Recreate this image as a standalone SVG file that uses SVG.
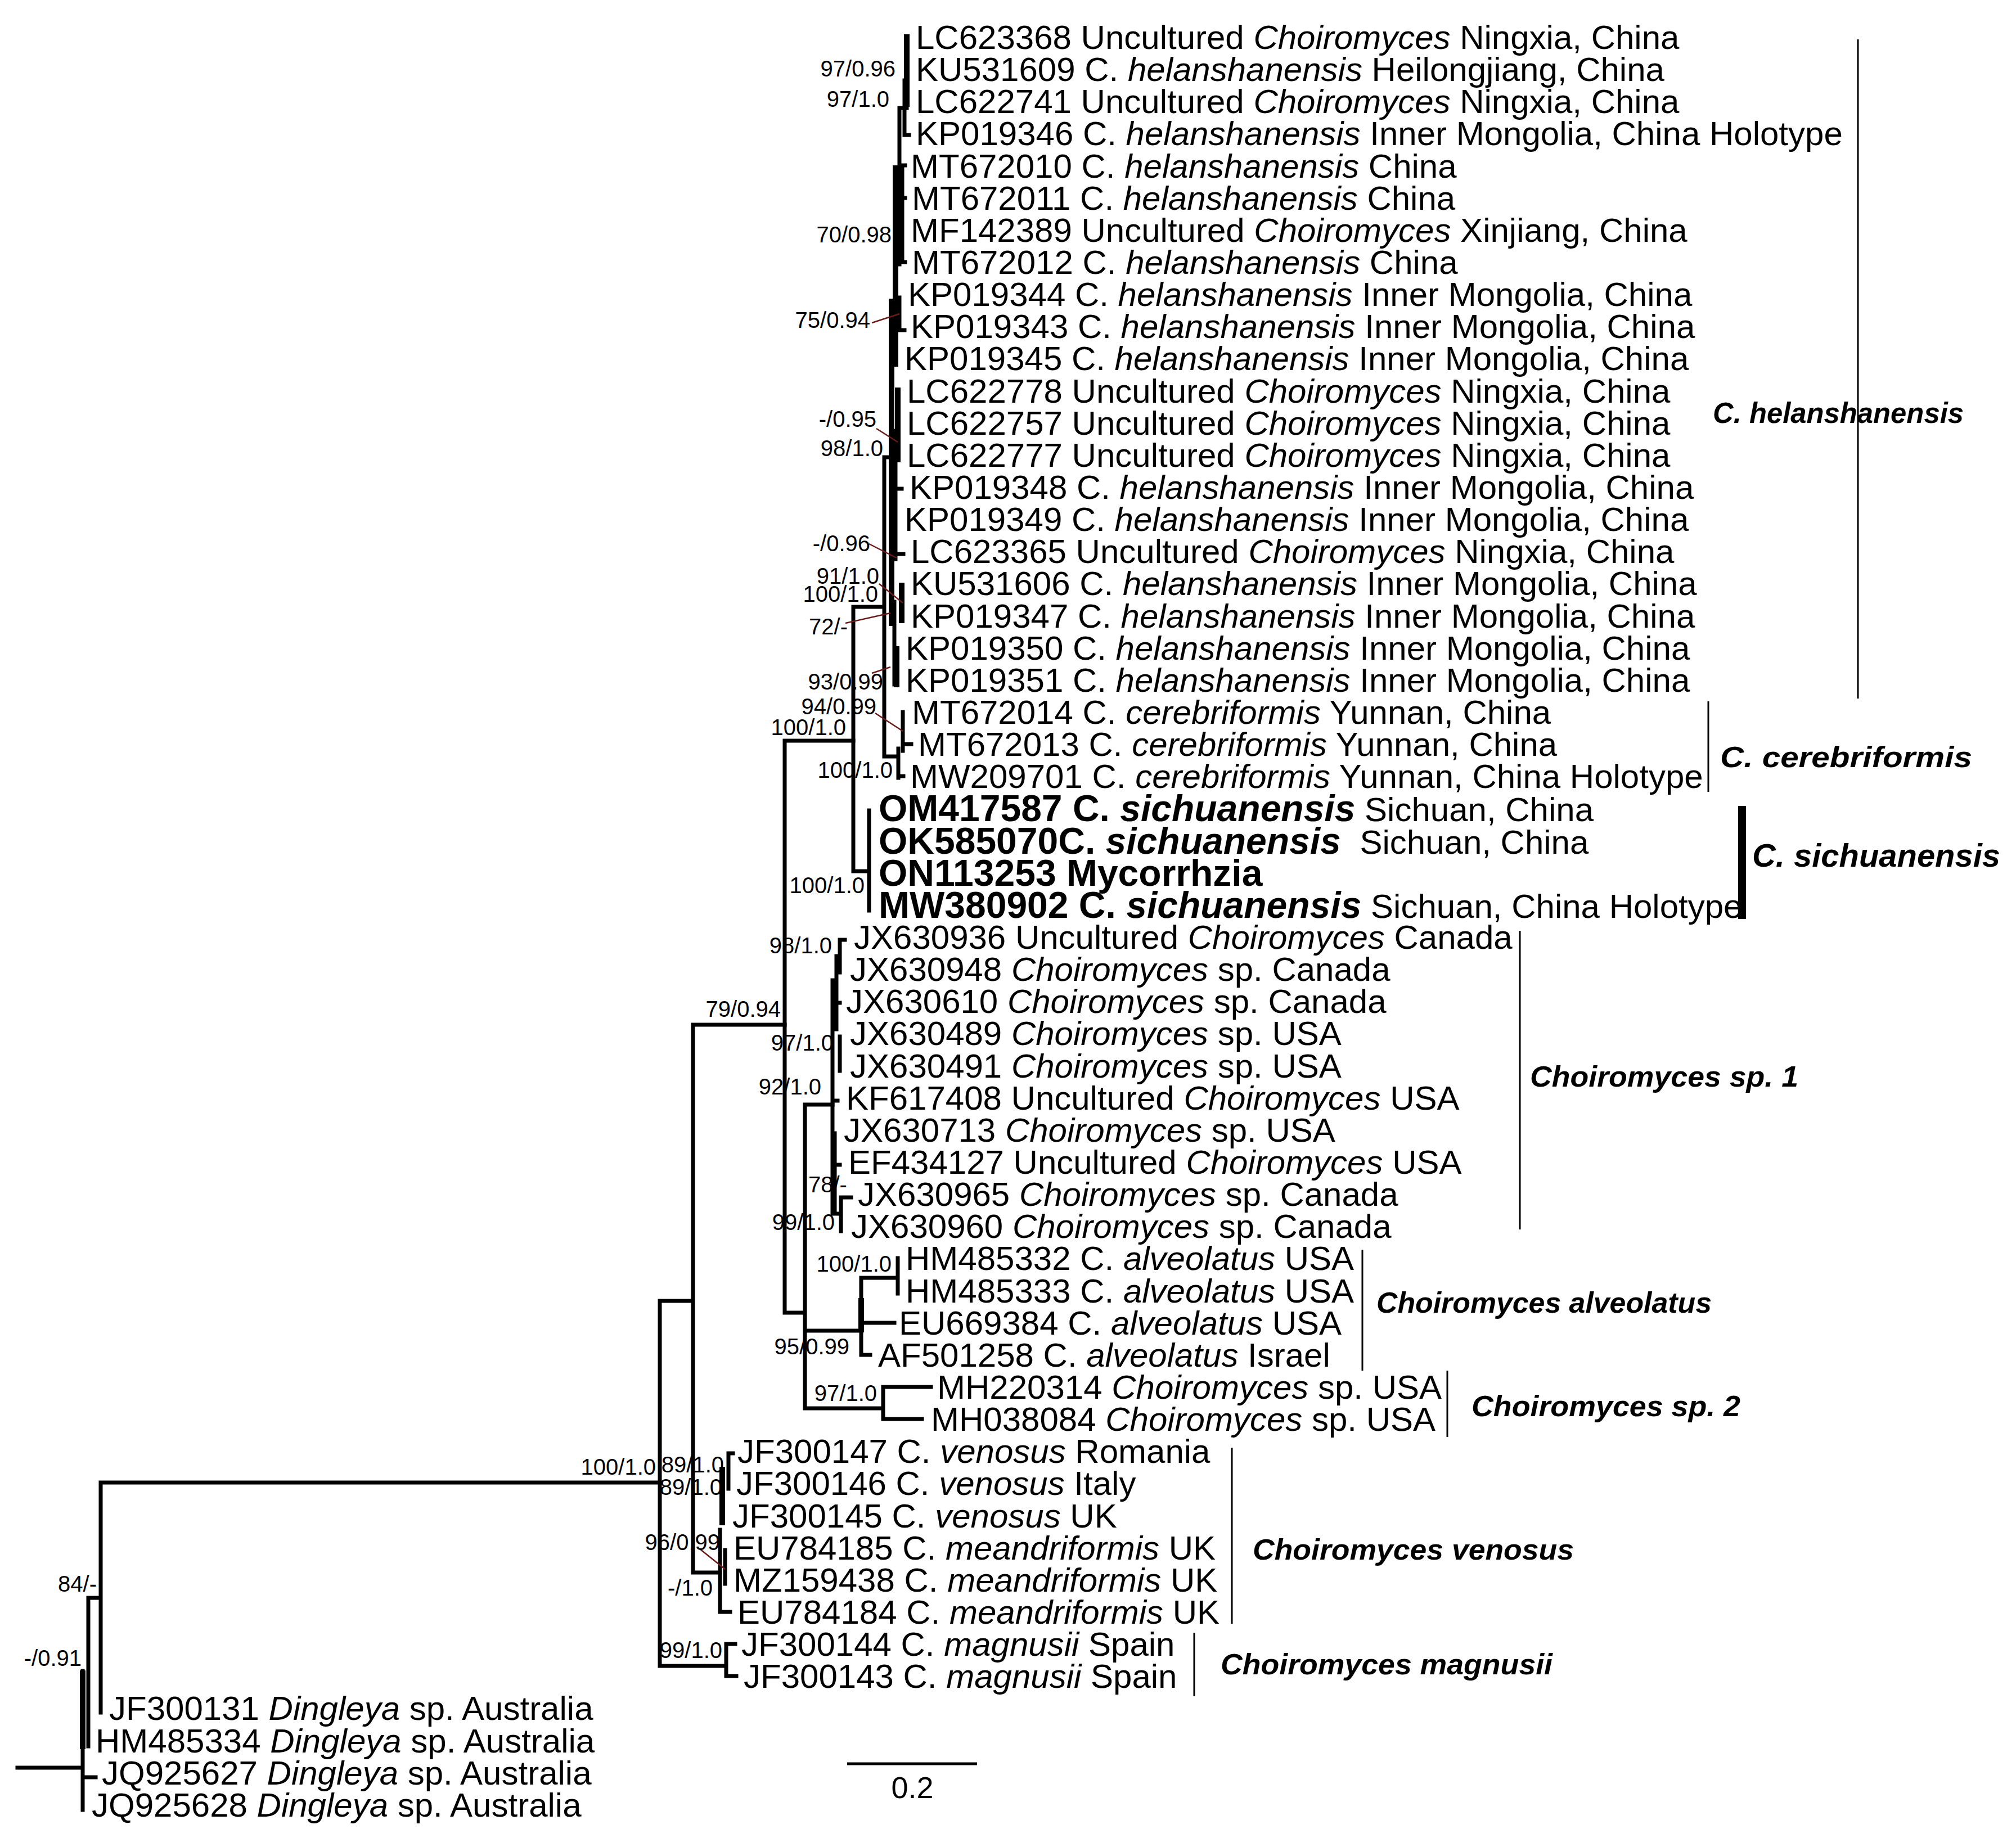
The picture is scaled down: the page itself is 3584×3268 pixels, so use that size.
<svg xmlns="http://www.w3.org/2000/svg" width="3584" height="3268" viewBox="0 0 3584 3268">
<style>
text{font-family:"Liberation Sans",Arial,sans-serif;fill:#000}
.t{font-size:60px}
.i{font-style:italic}
.b{font-size:66px;font-weight:bold}
.r{font-size:60px;font-weight:normal;font-style:normal}
.s{font-size:40px}
.e{text-anchor:end}
.c{font-size:52px;font-weight:bold;font-style:italic}
.br{stroke:#000;stroke-width:7;fill:none;stroke-linecap:square}
.tk{stroke:#000;stroke-width:10;fill:none;stroke-linecap:square}
.ld{stroke:#6b1a1a;stroke-width:2.5;fill:none}
.bar{stroke:#000;stroke-width:3;fill:none}
</style>
<rect width="3584" height="3268" fill="#fff"/>
<g id="connectors">
<path class="br" d="M31,3143H147 M147,2971V3218 M147,3160H170 M157,2841V3105 M157,2841H179 M179,2636V3045 M179,2636H1173 M1173,2313V2962 M1173,2313H1232 M1173,2962H1291 M1291,2923V2980 M1291,2923H1307 M1291,2980H1309 M1232,1822V2796 M1232,1822H1395 M1232,2796H1280"/>
<path class="tk" d="M147,2975V3105"/>
<path class="br" d="M1280,2720V2866 M1280,2866H1298 M1295,2584V2647 M1295,2584H1303 M1289,2756V2816"/>
<path class="tk" d="M1284,2613V2707"/>
<path class="br" d="M1395,1317V2334 M1395,1317H1517 M1395,2334H1431 M1431,1964V2504 M1431,1964H1480 M1431,2366H1531 M1431,2504H1570 M1570,2466V2523 M1570,2466H1655 M1570,2523H1639"/>
<path class="br" d="M1531,2272V2409 M1531,2409H1547 M1531,2352H1590 M1531,2272H1596 M1596,2237V2300"/>
<path class="tk" d="M1531,2313V2364"/>
<path class="br" d="M1480,1743V2158 M1487,1700V1830 M1493,1671V1729 M1493,1671H1502 M1487,1783H1493 M1493,1843V1904 M1480,1957H1489 M1480,2071H1493 M1484,2015V2158 M1480,2158H1495 M1495,2129V2189 M1495,2129H1513"/>
<path class="br" d="M1517,1079V1549 M1517,1079H1572 M1517,1549H1545 M1545,1441V1619 M1572,813V1345 M1572,813H1585 M1572,1345H1597 M1597,1331V1383 M1597,1380H1606 M1605,1266V1335 M1605,1323H1620"/>
<path class="tk" d="M1612,66V185 M1592,299V647 M1585,536V1108 M1596,694V817 M1603,1041V1103 M1594,1154V1217"/>
<path class="br" d="M1608,143V240 M1608,240H1616 M1599,192H1612 M1599,192V470 M1604,294V466 M1604,294H1609 M1604,352H1609 M1604,466H1609 M1599,529V587 M1599,587H1608 M1592,766V994 M1592,869H1603 M1592,985H1606 M1590,1070V1217"/>
<path class="ld" d="M1550,574L1599,558 M1558,762L1596,786 M1545,967L1594,992 M1563,1038L1605,1072 M1503,1108L1583,1090 M1550,1197L1583,1186 M1556,1268L1605,1300 M1244,2754L1289,2790"/>
</g>
<g id="support">
<text class="s e" x="1592" y="136">97/0.96</text>
<text class="s e" x="1581" y="190">97/1.0</text>
<text class="s e" x="1585" y="431">70/0.98</text>
<text class="s e" x="1547" y="583">75/0.94</text>
<text class="s e" x="1558" y="759">-/0.95</text>
<text class="s e" x="1570" y="811">98/1.0</text>
<text class="s e" x="1547" y="980">-/0.96</text>
<text class="s e" x="1563" y="1038">91/1.0</text>
<text class="s e" x="1561" y="1070">100/1.0</text>
<text class="s e" x="1507" y="1128">72/-</text>
<text class="s e" x="1570" y="1226">93/0.99</text>
<text class="s e" x="1558" y="1270">94/0.99</text>
<text class="s e" x="1504" y="1307">100/1.0</text>
<text class="s e" x="1587" y="1383">100/1.0</text>
<text class="s e" x="1537" y="1588">100/1.0</text>
<text class="s e" x="1479" y="1695">98/1.0</text>
<text class="s e" x="1388" y="1808">79/0.94</text>
<text class="s e" x="1482" y="1868">97/1.0</text>
<text class="s e" x="1460" y="1946">92/1.0</text>
<text class="s" x="1437" y="2120">78/-</text>
<text class="s e" x="1484" y="2187">99/1.0</text>
<text class="s e" x="1585" y="2261">100/1.0</text>
<text class="s e" x="1510" y="2408">95/0.99</text>
<text class="s e" x="1559" y="2491">97/1.0</text>
<text class="s e" x="1166" y="2622">100/1.0</text>
<text class="s e" x="1287" y="2618">89/1.0</text>
<text class="s e" x="1284" y="2658">89/1.0</text>
<text class="s e" x="1280" y="2756">96/0.99</text>
<text class="s e" x="1267" y="2837">-/1.0</text>
<text class="s e" x="1284" y="2948">99/1.0</text>
<text class="s e" x="172" y="2830">84/-</text>
<text class="s e" x="145" y="2962">-/0.91</text>
</g>
<g id="leaf-LC623368"><text class="t" x="1628" y="87">LC623368 Uncultured <tspan class="i">Choiromyces</tspan> Ningxia, China</text></g>
<g id="leaf-KU531609"><text class="t" x="1628" y="144">KU531609 C. <tspan class="i">helanshanensis</tspan> Heilongjiang, China</text></g>
<g id="leaf-LC622741"><text class="t" x="1628" y="201">LC622741 Uncultured <tspan class="i">Choiromyces</tspan> Ningxia, China</text></g>
<g id="leaf-KP019346"><text class="t" x="1628" y="258">KP019346 C. <tspan class="i">helanshanensis</tspan> Inner Mongolia, China Holotype</text></g>
<g id="leaf-MT672010"><text class="t" x="1619" y="316">MT672010 C. <tspan class="i">helanshanensis</tspan> China</text></g>
<g id="leaf-MT672011"><text class="t" x="1621" y="373">MT672011 C. <tspan class="i">helanshanensis</tspan> China</text></g>
<g id="leaf-MF142389"><text class="t" x="1619" y="430">MF142389 Uncultured <tspan class="i">Choiromyces</tspan> Xinjiang, China</text></g>
<g id="leaf-MT672012"><text class="t" x="1621" y="487">MT672012 C. <tspan class="i">helanshanensis</tspan> China</text></g>
<g id="leaf-KP019344"><text class="t" x="1614" y="544">KP019344 C. <tspan class="i">helanshanensis</tspan> Inner Mongolia, China</text></g>
<g id="leaf-KP019343"><text class="t" x="1619" y="601">KP019343 C. <tspan class="i">helanshanensis</tspan> Inner Mongolia, China</text></g>
<g id="leaf-KP019345"><text class="t" x="1608" y="658">KP019345 C. <tspan class="i">helanshanensis</tspan> Inner Mongolia, China</text></g>
<g id="leaf-LC622778"><text class="t" x="1612" y="716">LC622778 Uncultured <tspan class="i">Choiromyces</tspan> Ningxia, China</text></g>
<g id="leaf-LC622757"><text class="t" x="1612" y="773">LC622757 Uncultured <tspan class="i">Choiromyces</tspan> Ningxia, China</text></g>
<g id="leaf-LC622777"><text class="t" x="1612" y="830">LC622777 Uncultured <tspan class="i">Choiromyces</tspan> Ningxia, China</text></g>
<g id="leaf-KP019348"><text class="t" x="1617" y="887">KP019348 C. <tspan class="i">helanshanensis</tspan> Inner Mongolia, China</text></g>
<g id="leaf-KP019349"><text class="t" x="1608" y="944">KP019349 C. <tspan class="i">helanshanensis</tspan> Inner Mongolia, China</text></g>
<g id="leaf-LC623365"><text class="t" x="1619" y="1001">LC623365 Uncultured <tspan class="i">Choiromyces</tspan> Ningxia, China</text></g>
<g id="leaf-KU531606"><text class="t" x="1619" y="1058">KU531606 C. <tspan class="i">helanshanensis</tspan> Inner Mongolia, China</text></g>
<g id="leaf-KP019347"><text class="t" x="1619" y="1116">KP019347 C. <tspan class="i">helanshanensis</tspan> Inner Mongolia, China</text></g>
<g id="leaf-KP019350"><text class="t" x="1610" y="1173">KP019350 C. <tspan class="i">helanshanensis</tspan> Inner Mongolia, China</text></g>
<g id="leaf-KP019351"><text class="t" x="1610" y="1230">KP019351 C. <tspan class="i">helanshanensis</tspan> Inner Mongolia, China</text></g>
<g id="leaf-MT672014"><text class="t" x="1621" y="1287">MT672014 C. <tspan class="i">cerebriformis</tspan> Yunnan, China</text></g>
<g id="leaf-MT672013"><text class="t" x="1632" y="1344">MT672013 C. <tspan class="i">cerebriformis</tspan> Yunnan, China</text></g>
<g id="leaf-MW209701"><text class="t" x="1618" y="1401">MW209701 C. <tspan class="i">cerebriformis</tspan> Yunnan, China Holotype</text></g>
<g id="leaf-OM417587"><text class="b" x="1562" y="1460">OM417587 C. <tspan class="i">sichuanensis</tspan><tspan class="r"> Sichuan, China</tspan></text></g>
<g id="leaf-OK585070"><text class="b" x="1562" y="1518">OK585070C. <tspan class="i">sichuanensis</tspan><tspan class="r" dx="17"> Sichuan, China</tspan></text></g>
<g id="leaf-ON113253"><text class="b" x="1562" y="1575">ON113253 Mycorrhzia</text></g>
<g id="leaf-MW380902"><text class="b" x="1562" y="1632">MW380902 C. <tspan class="i">sichuanensis</tspan><tspan class="r"> Sichuan, China Holotype</tspan></text></g>
<g id="leaf-JX630936"><text class="t" x="1518" y="1687">JX630936 Uncultured <tspan class="i">Choiromyces</tspan> Canada</text></g>
<g id="leaf-JX630948"><text class="t" x="1511" y="1744">JX630948 <tspan class="i">Choiromyces</tspan> sp. Canada</text></g>
<g id="leaf-JX630610"><text class="t" x="1504" y="1801">JX630610 <tspan class="i">Choiromyces</tspan> sp. Canada</text></g>
<g id="leaf-JX630489"><text class="t" x="1511" y="1858">JX630489 <tspan class="i">Choiromyces</tspan> sp. USA</text></g>
<g id="leaf-JX630491"><text class="t" x="1511" y="1916">JX630491 <tspan class="i">Choiromyces</tspan> sp. USA</text></g>
<g id="leaf-KF617408"><text class="t" x="1504" y="1973">KF617408 Uncultured <tspan class="i">Choiromyces</tspan> USA</text></g>
<g id="leaf-JX630713"><text class="t" x="1500" y="2030">JX630713 <tspan class="i">Choiromyces</tspan> sp. USA</text></g>
<g id="leaf-EF434127"><text class="t" x="1508" y="2087">EF434127 Uncultured <tspan class="i">Choiromyces</tspan> USA</text></g>
<g id="leaf-JX630965"><text class="t" x="1525" y="2144">JX630965 <tspan class="i">Choiromyces</tspan> sp. Canada</text></g>
<g id="leaf-JX630960"><text class="t" x="1513" y="2201">JX630960 <tspan class="i">Choiromyces</tspan> sp. Canada</text></g>
<g id="leaf-HM485332"><text class="t" x="1610" y="2258">HM485332 C. <tspan class="i">alveolatus</tspan> USA</text></g>
<g id="leaf-HM485333"><text class="t" x="1610" y="2316">HM485333 C. <tspan class="i">alveolatus</tspan> USA</text></g>
<g id="leaf-EU669384"><text class="t" x="1598" y="2373">EU669384 C. <tspan class="i">alveolatus</tspan> USA</text></g>
<g id="leaf-AF501258"><text class="t" x="1561" y="2430">AF501258 C. <tspan class="i">alveolatus</tspan> Israel</text></g>
<g id="leaf-MH220314"><text class="t" x="1666" y="2487">MH220314 <tspan class="i">Choiromyces</tspan> sp. USA</text></g>
<g id="leaf-MH038084"><text class="t" x="1655" y="2544">MH038084 <tspan class="i">Choiromyces</tspan> sp. USA</text></g>
<g id="leaf-JF300147"><text class="t" x="1311" y="2601">JF300147 C. <tspan class="i">venosus</tspan> Romania</text></g>
<g id="leaf-JF300146"><text class="t" x="1309" y="2658">JF300146 C. <tspan class="i">venosus</tspan> Italy</text></g>
<g id="leaf-JF300145"><text class="t" x="1302" y="2716">JF300145 C. <tspan class="i">venosus</tspan> UK</text></g>
<g id="leaf-EU784185"><text class="t" x="1304" y="2773">EU784185 C. <tspan class="i">meandriformis</tspan> UK</text></g>
<g id="leaf-MZ159438"><text class="t" x="1304" y="2830">MZ159438 C. <tspan class="i">meandriformis</tspan> UK</text></g>
<g id="leaf-EU784184"><text class="t" x="1311" y="2887">EU784184 C. <tspan class="i">meandriformis</tspan> UK</text></g>
<g id="leaf-JF300144"><text class="t" x="1318" y="2944">JF300144 C. <tspan class="i">magnusii</tspan> Spain</text></g>
<g id="leaf-JF300143"><text class="t" x="1322" y="3001">JF300143 C. <tspan class="i">magnusii</tspan> Spain</text></g>
<g id="leaf-JF300131"><text class="t" x="194" y="3058">JF300131 <tspan class="i">Dingleya</tspan> sp. Australia</text></g>
<g id="leaf-HM485334"><text class="t" x="170" y="3116">HM485334 <tspan class="i">Dingleya</tspan> sp. Australia</text></g>
<g id="leaf-JQ925627"><text class="t" x="181" y="3173">JQ925627 <tspan class="i">Dingleya</tspan> sp. Australia</text></g>
<g id="leaf-JQ925628"><text class="t" x="163" y="3230">JQ925628 <tspan class="i">Dingleya</tspan> sp. Australia</text></g>
<g id="clade-helanshanensis"><path class="bar" d="M3303,70V1242"/><text class="c" x="3045" y="752" textLength="446" lengthAdjust="spacingAndGlyphs">C. helanshanensis</text></g>
<g id="clade-cerebriformis"><path class="bar" d="M3037,1247V1408"/><text class="c" x="3058" y="1364" textLength="448" lengthAdjust="spacingAndGlyphs">C. cerebriformis</text></g>
<g id="clade-sichuanensis"><path d="M3097,1433V1634" stroke="#000" stroke-width="14"/><text class="c" x="3115" y="1541" style="font-size:58px" textLength="441" lengthAdjust="spacingAndGlyphs">C. sichuanensis</text></g>
<g id="clade-sp1"><path class="bar" d="M2702,1655V2186"/><text class="c" x="2720" y="1932" textLength="477" lengthAdjust="spacingAndGlyphs">Choiromyces sp. 1</text></g>
<g id="clade-alveolatus"><path class="bar" d="M2422,2222V2437"/><text class="c" x="2447" y="2334" textLength="596" lengthAdjust="spacingAndGlyphs">Choiromyces alveolatus</text></g>
<g id="clade-sp2"><path class="bar" d="M2573,2437V2555"/><text class="c" x="2616" y="2518" textLength="478" lengthAdjust="spacingAndGlyphs">Choiromyces sp. 2</text></g>
<g id="clade-venosus"><path class="bar" d="M2190,2574V2887"/><text class="c" x="2227" y="2773" textLength="571" lengthAdjust="spacingAndGlyphs">Choiromyces venosus</text></g>
<g id="clade-magnusii"><path class="bar" d="M2123,2903V3016"/><text class="c" x="2170" y="2977" textLength="590" lengthAdjust="spacingAndGlyphs">Choiromyces magnusii</text></g>
<g id="scale-bar"><path d="M1506,3136H1737" stroke="#000" stroke-width="5"/><text x="1622" y="3197" style="font-size:54px;text-anchor:middle">0.2</text></g>
</svg>
